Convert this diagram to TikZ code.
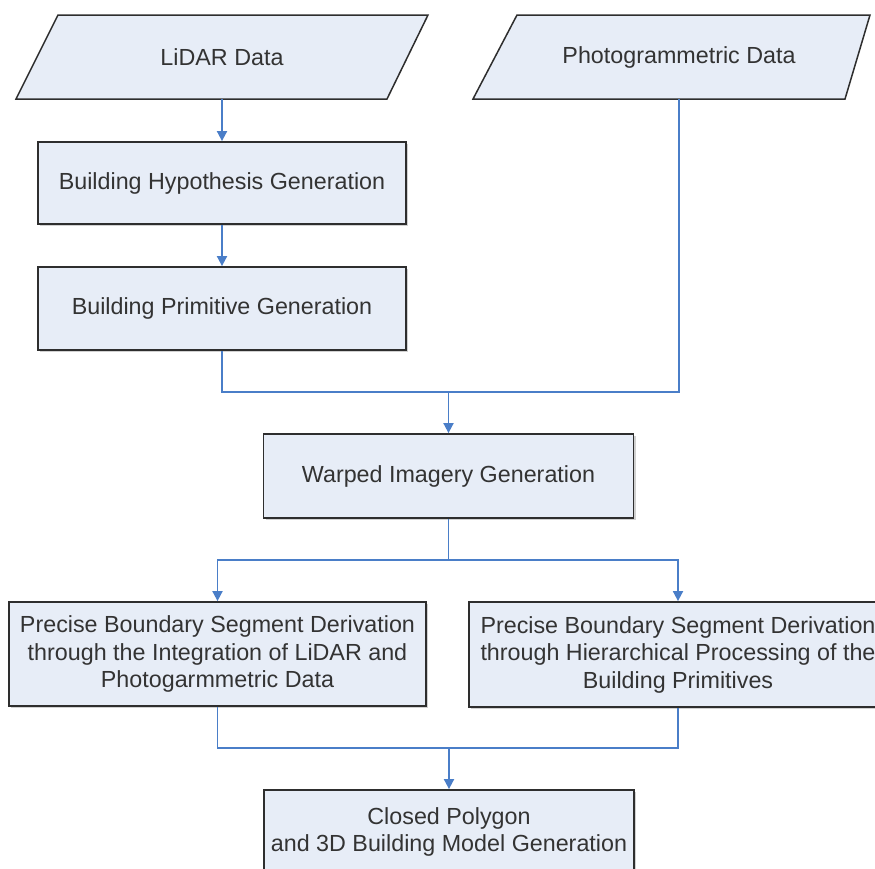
\documentclass[tikz,border=0pt]{standalone}
\usepackage{fontspec}
\setmainfont{Liberation Sans}
\usetikzlibrary{arrows.meta,shadows}
\definecolor{fillc}{HTML}{E7EDF7}
\definecolor{linec}{HTML}{4A7EC8}
\definecolor{borderc}{HTML}{2E2E2E}
\definecolor{textc}{HTML}{333333}
\begin{document}
\begin{tikzpicture}[x=1pt,y=-1pt,
  txt/.style={font=\fontsize{23.3}{27.5}\selectfont, text=textc, align=center, inner sep=0pt},
  procbox/.style={txt, draw=borderc, fill=fillc, line width=1.8pt, minimum width=#1,
     drop shadow={shadow xshift=2pt, shadow yshift=-2pt, fill=black!30, opacity=0.6}},
  iobox/.style={draw=borderc, fill=fillc, line width=1.5pt, line join=miter},
  conn/.style={draw=linec, line width=1.8pt},
  arr/.style={conn, -{Triangle[width=10pt,length=10pt]}}
]
\useasboundingbox (0,0) rectangle (875,868);
% input parallelograms
\draw[iobox] (58,15) -- (428,15) -- (387,99) -- (16,99) -- cycle;
\node[txt, minimum width=300pt, minimum height=84pt] (lidar) at (222,57) {LiDAR Data};
\draw[iobox] (517,15) -- (870,15) -- (845,99) -- (473,99) -- cycle;
\node[txt, minimum width=300pt, minimum height=84pt] (photo) at (679,57) {Photogrammetric Data};
% process boxes
\node[procbox=368pt, minimum height=82pt] (hyp) at (222,183) {Building Hypothesis Generation};
\node[procbox=368pt, minimum height=83pt] (prim) at (222,308.5) {Building Primitive Generation};
\node[procbox=370pt, minimum height=84pt] (warp) at (448.5,476) {Warped Imagery Generation};
\node[procbox=417pt, minimum height=104pt] (left) at (217.5,654) {Precise Boundary Segment Derivation\\through the Integration of LiDAR and\\Photogarmmetric Data};
\node[procbox=418pt, minimum height=105pt] (right) at (678,654.5) {Precise Boundary Segment Derivation\\through Hierarchical Processing of the\\Building Primitives};
\node[procbox=370pt, minimum height=84pt] (final) at (449,832) {Closed Polygon\\and 3D Building Model Generation};
% junction coordinates
\coordinate (j1) at (448.5,392);
\coordinate (j2) at (448.5,560);
\coordinate (j3) at (449,748);
% connectors
\draw[arr] (lidar.south) -- (hyp.north);
\draw[arr] (hyp.south) -- (prim.north);
\draw[conn] (prim.south) |- (j1);
\draw[conn] (photo.south) |- (j1);
\draw[arr] (j1) -- (warp.north);
\draw[conn] (warp.south) -- (j2);
\draw[arr] (j2) -| (left.north);
\draw[arr] (j2) -| (right.north);
\draw[conn] (left.south) |- (j3);
\draw[conn] (right.south) |- (j3);
\draw[arr] (j3) -- (final.north);
\end{tikzpicture}
\end{document}
